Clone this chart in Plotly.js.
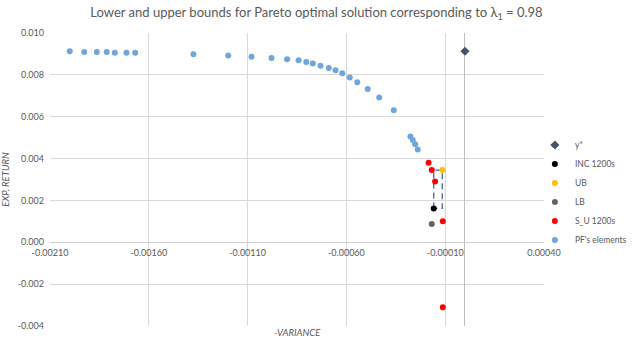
<!DOCTYPE html>
<html>
<head>
<meta charset="utf-8">
<script src="https://cdn.plot.ly/plotly-3.0.1.min.js"></script>
<style>html,body{margin:0;padding:0;background:#fff;}#chart{width:633px;height:338px;}</style>
</head>
<body>
<div id="chart"></div>
<script>
// Pareto front elements
var pfX = [-0.00200,-0.001927,-0.001863,-0.001813,-0.001772,-0.001713,-0.001669,-0.001374,-0.001198,-0.00108,-0.000979,-0.0009,-0.000842,-0.000803,-0.00077,-0.000731,-0.000689,-0.000655,-0.000621,-0.000583,-0.000545,-0.000492,-0.000434,-0.00036,-0.000276,-0.000264,-0.000252,-0.000239];
var pfY = [0.00913,0.00909,0.00909,0.00909,0.00906,0.00906,0.00906,0.00898,0.00892,0.00887,0.00881,0.00874,0.00870,0.00862,0.00854,0.00844,0.00833,0.00822,0.00808,0.00787,0.00765,0.00733,0.00692,0.00631,0.00505,0.00489,0.00469,0.00443];
var yStarX = [0.0];
var yStarY = [0.00913];
var incX = [-0.000158];
var incY = [0.00162];
var ubX = [-0.000115];
var ubY = [0.00345];
var lbX = [-0.000168];
var lbY = [0.00087];
var suX = [-0.000184,-0.000168,-0.000151,-0.000112,-0.000112];
var suY = [0.0038,0.00345,0.00291,0.00100,-0.00311];
var xTickVals = [-0.0021,-0.0016,-0.0011,-0.0006,-0.0001,0.0004];
var xTickText = ["-0.00210","-0.00160","-0.00110","-0.00060","-0.00010","0.00040"];
var yTickVals = [-0.004,-0.002,0.000,0.002,0.004,0.006,0.008,0.010];
var yTickText = ["-0.004","-0.002","0.000","0.002","0.004","0.006","0.008","0.010"];
var xRange = [-0.0021, 0.0004];
var yRange = [-0.004, 0.010];

var FONT = "Lato, 'Open Sans', sans-serif";
var GREY = "#595959";

// dashed box between INC and UB
var boxX = [incX[0], incX[0], ubX[0], ubX[0], incX[0]];
var boxY = [incY[0], ubY[0], ubY[0], incY[0], incY[0]];

var traces = [
  {x: boxX, y: boxY, mode: "lines", showlegend: false, hoverinfo: "skip",
   line: {color: "#3B5F8E", width: 1.25, dash: "6px,4px"}},
  {x: yStarX, y: yStarY, mode: "markers", name: "y*", legendgroup: "a",
   marker: {symbol: "diamond", size: 7, color: "#44546A"}},
  {x: incX, y: incY, mode: "markers", name: "INC 1200s", legendgroup: "b",
   marker: {size: 6, color: "#000000"}},
  {x: ubX, y: ubY, mode: "markers", name: "UB", legendgroup: "c",
   marker: {size: 6, color: "#FFC000"}},
  {x: lbX, y: lbY, mode: "markers", name: "LB", legendgroup: "d",
   marker: {size: 6, color: "#636363"}},
  {x: suX, y: suY, mode: "markers", name: "S_U 1200s", legendgroup: "e",
   marker: {size: 6, color: "#FF0000"}},
  {x: pfX, y: pfY, mode: "markers", name: "PF's elements", legendgroup: "f",
   marker: {size: 6, color: "#6FA6DC"}}
];

var ml = 50, mr = 89, mt = 33, mb = 12;
var zeroPos = (0 - yRange[0]) / (yRange[1] - yRange[0]);

var layout = {
  width: 633, height: 338,
  margin: {l: ml, r: mr, t: mt, b: mb, pad: 0, autoexpand: false},
  paper_bgcolor: "#ffffff", plot_bgcolor: "#ffffff",
  font: {family: FONT, color: GREY, size: 9},
  title: {text: "Lower and upper bounds for Pareto optimal solution corresponding to λ<sub>1</sub> = 0.98",
          font: {family: FONT, size: 13, color: GREY}, x: 0.5, xanchor: "center", y: 0.962, yanchor: "middle"},
  xaxis: {range: xRange, tickvals: xTickVals, ticktext: xTickText, showgrid: true,
          gridcolor: "#D9D9D9", gridwidth: 1, zeroline: true, zerolinecolor: "#BFBFBF", zerolinewidth: 1,
          showline: false, ticks: "", anchor: "free", position: zeroPos,
          tickfont: {family: FONT, size: 9, color: GREY}, ticklabelstandoff: 4},
  yaxis: {range: yRange, tickvals: yTickVals, ticktext: yTickText, showgrid: true,
          gridcolor: "#D9D9D9", gridwidth: 1, zeroline: true, zerolinecolor: "#D0D0D0", zerolinewidth: 1,
          showline: false, ticks: "", tickfont: {family: FONT, size: 9, color: GREY}, ticklabelstandoff: 5,
          title: {text: "EXP. RETURN", font: {family: FONT, size: 9.5, color: GREY, style: "italic"}, standoff: 10}},
  showlegend: true,
  legend: {xref: "container", yref: "container", x: 0.845, xanchor: "left", y: 0.614, yanchor: "top", traceorder: "normal",
           tracegroupgap: 0, font: {family: FONT, size: 8.5, color: GREY}, bgcolor: "rgba(0,0,0,0)", itemwidth: 30},
  annotations: [
    {text: "-VARIANCE", xref: "paper", yref: "paper", x: 0.5, y: 0, yshift: -6, xanchor: "center", yanchor: "middle",
     showarrow: false, font: {family: FONT, size: 9.5, color: GREY, style: "italic"}}
  ]
};

Plotly.newPlot("chart", traces, layout, {displayModeBar: false, staticPlot: true});
</script>
</body>
</html>
